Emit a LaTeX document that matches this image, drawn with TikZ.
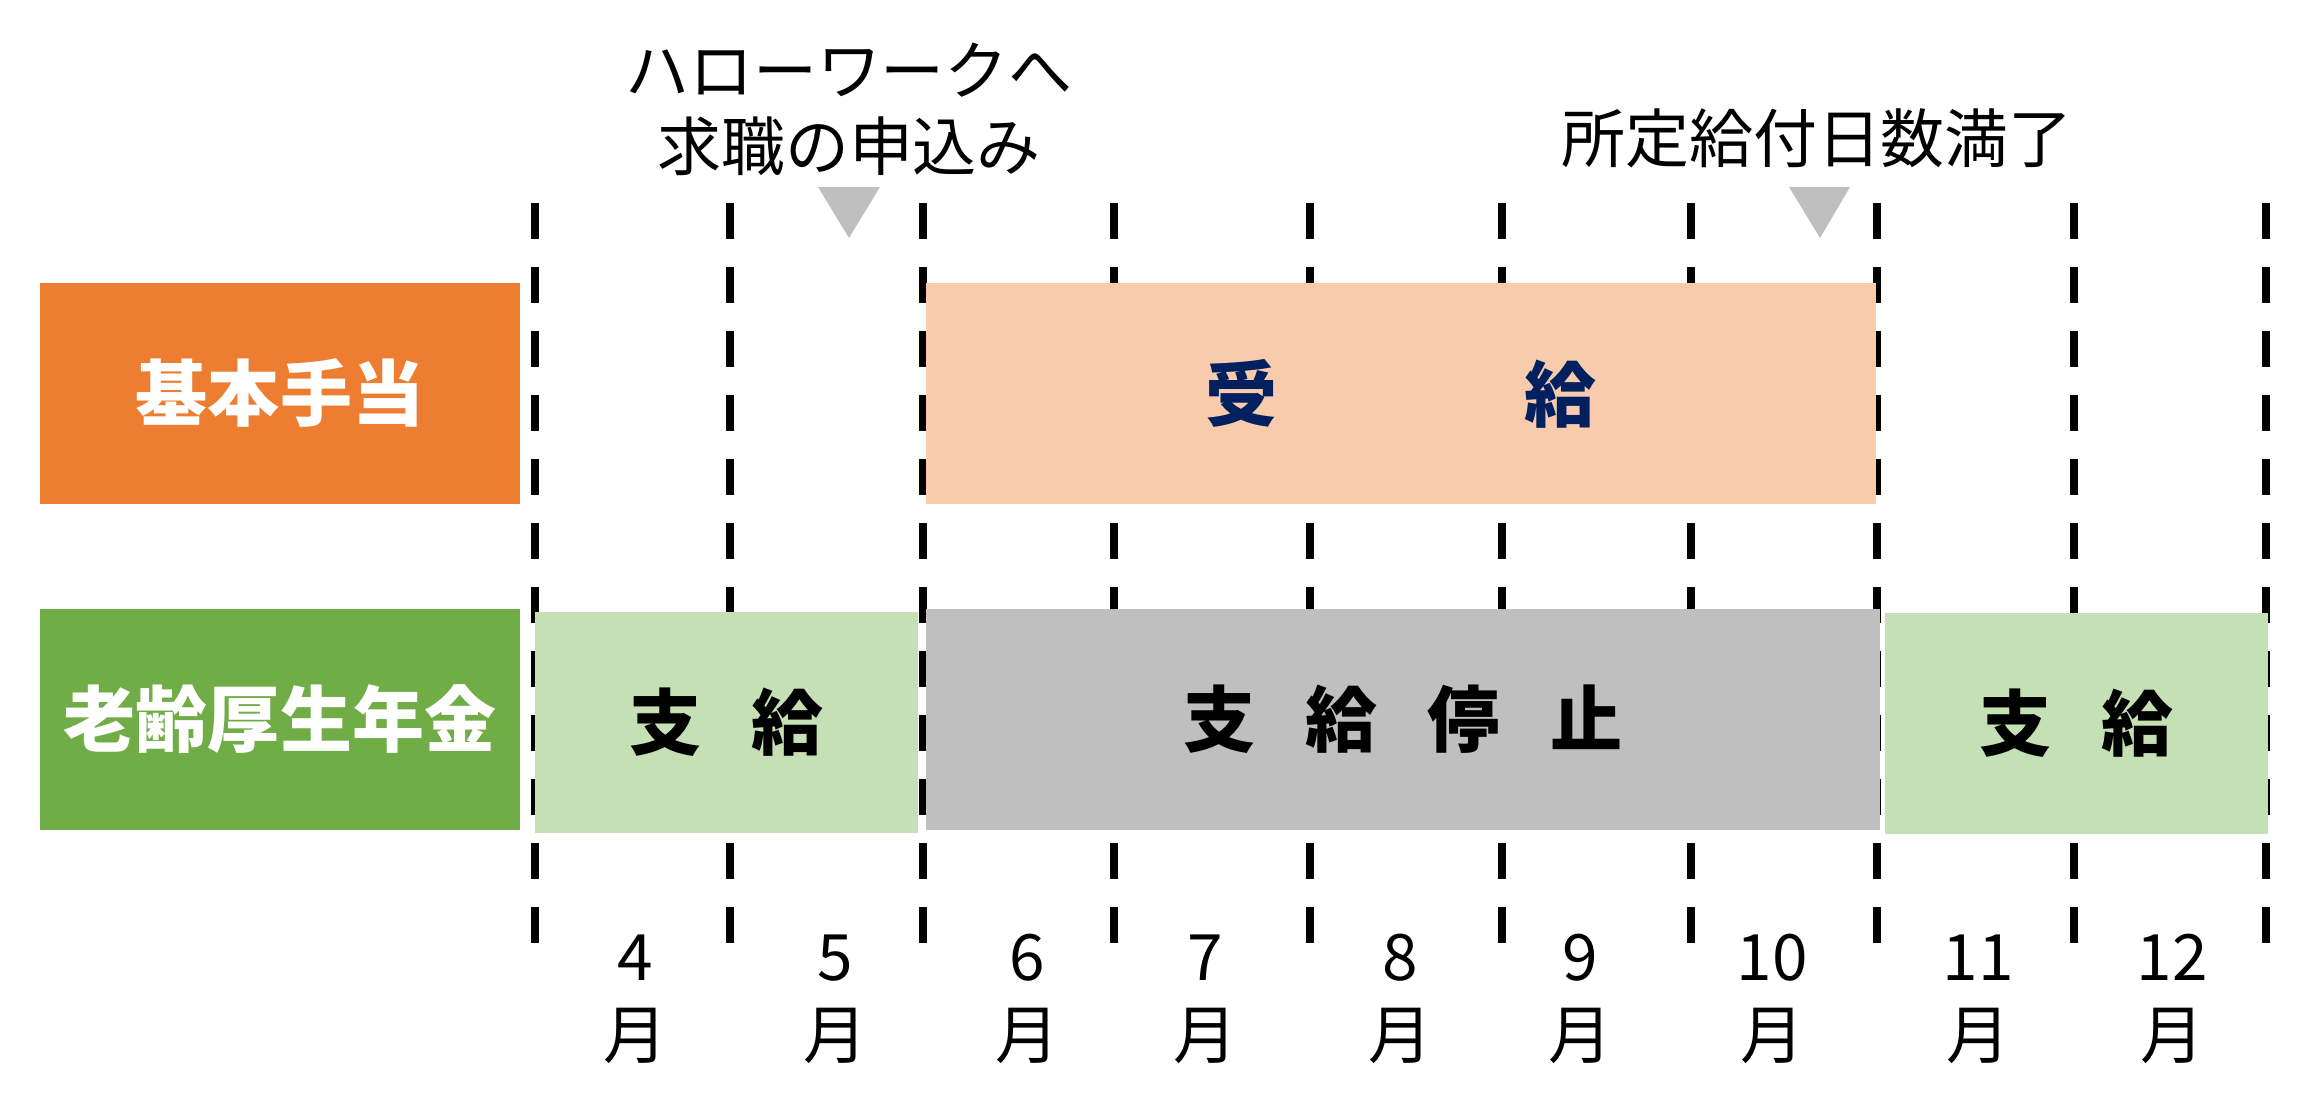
\documentclass[tikz,border=0pt]{standalone}
\usepackage{fontspec}
\setmainfont{Noto Sans CJK JP}

\begin{document}
\begin{tikzpicture}[
		lbl/.style={font=\fontsize{20.5}{24}\selectfont\bfseries, text=white, minimum width=4.8cm, minimum height=2.21cm, inner sep=0pt},
		bar/.style={font=\fontsize{20.5}{24}\selectfont\bfseries, minimum height=2.21cm, inner sep=0pt},
		note/.style={font=\fontsize{18.2}{21.6}\selectfont, align=center, inner sep=0pt},
		month/.style={font=\fontsize{18.2}{22.2}\selectfont, align=center, inner sep=0pt},
		sep/.style={line width=2.1pt, dash pattern=on 0.36cm off 0.28cm}
	]
		\definecolor{orange1}{HTML}{ED7D31}
		\definecolor{green1}{HTML}{70AD47}
		\definecolor{lgreen1}{HTML}{C5E0B4}
		\definecolor{peach1}{HTML}{F8CBAD}
		\definecolor{gray1}{HTML}{BFBFBF}
		\definecolor{navy1}{HTML}{002060}
		\useasboundingbox (0,0) rectangle (23.16,10.93);
		\foreach \x in {5.35,7.30,9.23,11.14,13.10,15.02,16.91,18.77,20.74,22.66}{
				\draw[sep] (\x,8.90) -- (\x,1.50);
			}
		\node[lbl, fill=orange1] (kihon) at (2.80,6.995) {基本手当};
		\node[lbl, fill=green1] (nenkin) at (2.80,3.735) {老齢厚生年金};
		\node[bar, fill=peach1, text=navy1, minimum width=9.50cm] (jukyu) at (14.01,6.995) {受\hspace{2.46cm}給};
		\node[bar, fill=lgreen1, minimum width=3.83cm] (shikyu1) at (7.265,3.705) {支\hspace{0.5cm}給};
		\node[bar, fill=gray1, minimum width=9.54cm] (teishi) at (14.03,3.735) {支\hspace{0.5cm}給\hspace{0.5cm}停\hspace{0.5cm}止};
		\node[bar, fill=lgreen1, minimum width=3.83cm] (shikyu2) at (20.765,3.695) {支\hspace{0.5cm}給};
		\node[note] (hw) at (8.49,9.84) {ハローワークへ\\求職の申込み};
		\node[note] (mankou) at (18.17,9.55) {所定給付日数満了};
		\fill[gray1] (8.18,9.06) -- (8.80,9.06) -- (8.49,8.55) -- cycle;
		\fill[gray1] (17.89,9.06) -- (18.50,9.06) -- (18.20,8.55) -- cycle;
		\foreach \m/\x in {4/6.35, 5/8.35, 6/10.27, 7/12.05, 8/14.00, 9/15.80, 10/17.72, 11/19.78, 12/21.72}{
				\node[month] (m\m) at (\x,0.94) {\m\\月};
			}
	\end{tikzpicture}
\end{document}
